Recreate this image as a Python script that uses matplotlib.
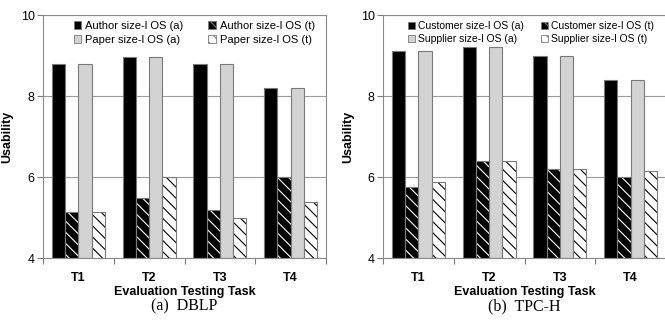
import numpy as np
import matplotlib
matplotlib.use("Agg")
import matplotlib.pyplot as plt
from matplotlib import ticker as tick
from matplotlib.patches import Patch

plt.rcParams['font.family'] = ['Liberation Sans', 'DejaVu Sans']
plt.rcParams['hatch.linewidth'] = 0.8

tasks = ["T1", "T2", "T3", "T4"]

# DBLP
dblp_labels = ["Author size-l OS (a)", "Author size-l OS (t)",
               "Paper size-l OS (a)", "Paper size-l OS (t)"]
author_a = [8.8, 8.97, 8.8, 8.2]
author_t = [5.15, 5.48, 5.19, 6.0]
paper_a = [8.8, 8.97, 8.8, 8.2]
paper_t = [5.15, 6.0, 4.99, 5.39]

# TPC-H
tpch_labels = ["Customer size-l OS (a)", "Customer size-l OS (t)",
               "Supplier size-l OS (a)", "Supplier size-l OS (t)"]
cust_a = [9.12, 9.22, 9.0, 8.41]
cust_t = [5.77, 6.41, 6.21, 6.0]
supp_a = [9.12, 9.22, 9.0, 8.41]
supp_t = [5.87, 6.4, 6.21, 6.15]

F = 9
W = 0.1875
offs = [-1.5*W, -0.5*W, 0.5*W, 1.5*W]
EDGE = '#7a7a7a'
HATCH = '\\\\\\'   # three backslashes -> ~11px spacing at 100 dpi


def draw_panel(ax, series, labels, caption, leg_x, colsp, legfs):
	x = np.arange(len(tasks))
	# (face, hatch, hatch colour)
	styles = [('black', None, 'black'),
	          ('black', HATCH, 'white'),
	          ('#d3d3d3', None, '#d3d3d3'),
	          ('white', HATCH, 'black')]
	for k, (vals, (fc, ht, hc)) in enumerate(zip(series, styles)):
		ax.bar(x + offs[k], np.array(vals) - 4, W, bottom=4, color=fc,
		       hatch=ht, edgecolor=hc, linewidth=0, zorder=2)
		# outline drawn separately so hatch colour can differ from edge
		ax.bar(x + offs[k], np.array(vals) - 4, W, bottom=4, fill=False,
		       edgecolor=EDGE, linewidth=0.8, zorder=3)
	ax.set_ylim(4, 10)
	ax.set_xlim(-0.5, 3.5)
	ax.set_yticks([4, 6, 8, 10])
	ax.yaxis.grid(True, color='#9a9a9a', linewidth=0.8, zorder=0)
	ax.set_axisbelow(True)
	ax.set_xticks(x)
	ax.set_xticklabels(tasks, fontsize=F, fontweight='bold')
	ax.xaxis.set_minor_locator(tick.FixedLocator(np.arange(-0.5, 4, 1)))
	ax.tick_params(axis='x', which='major', length=0, pad=10)
	ax.tick_params(axis='x', which='minor', length=4, width=0.8,
	               direction='out', color='#7a7a7a')
	ax.tick_params(axis='y', length=4, width=0.8, direction='out',
	               color='#7a7a7a', labelsize=F, pad=2)
	for sp in ax.spines.values():
		sp.set_color('#8a8a8a')
		sp.set_linewidth(0.8)
	ax.set_xlabel('Evaluation Testing Task', fontsize=F, fontweight='bold',
	              labelpad=1)
	ax.set_ylabel('Usability', fontsize=F, fontweight='bold', labelpad=5)

	leg_h = [Patch(facecolor='black', edgecolor=EDGE, linewidth=0.6),
	         Patch(facecolor='black', edgecolor=EDGE, hatch=HATCH, linewidth=0.6),
	         Patch(facecolor='#d3d3d3', edgecolor=EDGE, linewidth=0.6),
	         Patch(facecolor='white', edgecolor=EDGE, hatch=HATCH, linewidth=0.6)]
	# column-wise fill: (a) entries in column 1, (t) entries in column 2
	order = [0, 2, 1, 3]
	ax.legend([leg_h[i] for i in order], [labels[i] for i in order],
	          ncol=2, loc='upper left', bbox_to_anchor=(leg_x, 0.985),
	          frameon=False, fontsize=legfs, handlelength=0.7, handleheight=0.7,
	          handletextpad=0.3, columnspacing=colsp, labelspacing=0.35,
	          borderpad=0.2, borderaxespad=0)
	ax.text(0.5, -0.196, caption, transform=ax.transAxes, ha='center',
	        va='center', fontsize=11.5,
	        family=['Liberation Serif', 'DejaVu Serif'])


fig = plt.figure(figsize=(6.65, 3.26), dpi=100)
ax1 = fig.add_axes([0.0647, 0.2077, 0.4256, 0.746])
ax2 = fig.add_axes([0.576, 0.2077, 0.4256, 0.746])

draw_panel(ax1, [author_a, author_t, paper_a, paper_t], dblp_labels,
           '(a)  DBLP', 0.10, 2.3, 8)
draw_panel(ax2, [cust_a, cust_t, supp_a, supp_t], tpch_labels,
           '(b)  TPC-H', 0.08, 1.6, 7.5)

fig.savefig('out.png', dpi=100)
